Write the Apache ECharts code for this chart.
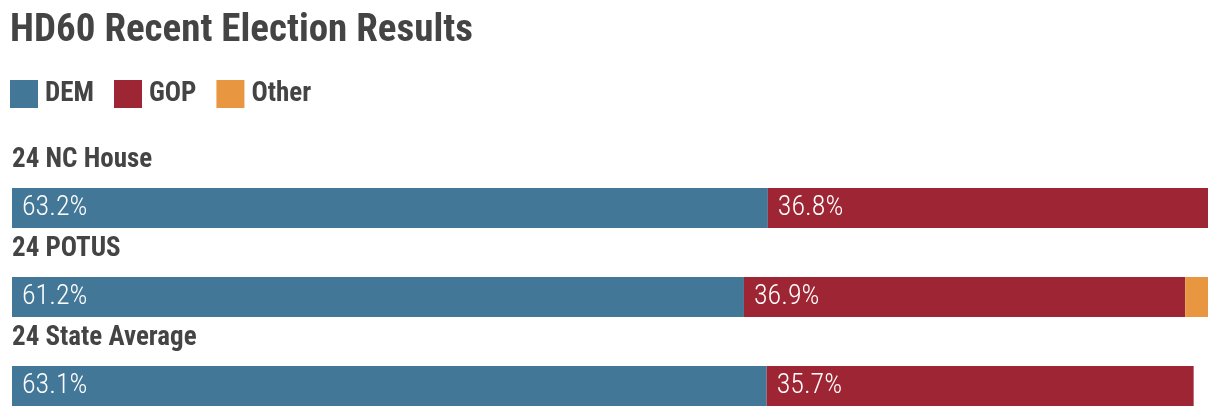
<!DOCTYPE html>
<html>
<head>
<meta charset="utf-8">
<script src="https://cdn.jsdelivr.net/npm/echarts@6/dist/echarts.min.js"></script>
<style>
html,body{margin:0;padding:0;background:#fff;}
#chart{width:1220px;height:418px;}
</style>
</head>
<body>
<div id="chart"></div>
<script>
var categories = ['24 NC House', '24 POTUS', '24 State Average'];
var demValues = [63.2, 61.2, 63.1];
var gopValues = [36.8, 36.9, 35.7];
var otherValues = [0, 1.9, 0];
var seriesNames = ['DEM', 'GOP', 'Other'];
var colors = ['#437797', '#9e2634', '#e89640'];

var FONT = "'Roboto Condensed', 'Open Sans Condensed', sans-serif";
var chart = echarts.init(document.getElementById('chart'));

function fmt(p) { return p.value > 0 ? p.value.toFixed(1) + '%' : ''; }

var dataSets = [demValues, gopValues, otherValues];
var series = seriesNames.map(function (name, i) {
  return {
    name: name,
    type: 'bar',
    stack: 'total',
    barWidth: 40,
    itemStyle: { color: colors[i] },
    label: {
      show: i < 2,
      position: 'insideLeft',
      distance: 10,
      color: '#fff',
      fontFamily: FONT,
      fontSize: 28,
      fontWeight: 300,
      formatter: fmt
    },
    emphasis: { disabled: true },
    data: dataSets[i]
  };
});

chart.setOption({
  animation: false,
  title: {
    text: 'HD60 Recent Election Results',
    left: 10,
    top: 12,
    padding: 0,
    textStyle: { fontFamily: FONT, fontSize: 39, fontWeight: 'bold', color: '#444' }
  },
  legend: {
    left: 10,
    top: 80,
    padding: 0,
    itemWidth: 28,
    itemHeight: 28,
    itemGap: 20,
    icon: 'rect',
    selectedMode: false,
    textStyle: { fontFamily: FONT, fontSize: 27, fontWeight: 'bold', color: '#444', padding: [0, 0, 0, 2] },
    data: seriesNames
  },
  grid: { left: 12, right: 12, top: 208, bottom: 32 },
  xAxis: { type: 'value', min: 0, max: 100, show: false },
  yAxis: {
    type: 'category',
    inverse: true,
    boundaryGap: false,
    data: categories,
    axisLine: { show: false },
    axisTick: { show: false },
    splitLine: { show: false },
    axisLabel: {
      inside: true,
      margin: 0,
      align: 'left',
      verticalAlign: 'bottom',
      padding: [0, 0, 34, 0],
      fontFamily: FONT,
      fontSize: 27,
      fontWeight: 'bold',
      color: '#444'
    }
  },
  series: series
});
</script>
</body>
</html>
